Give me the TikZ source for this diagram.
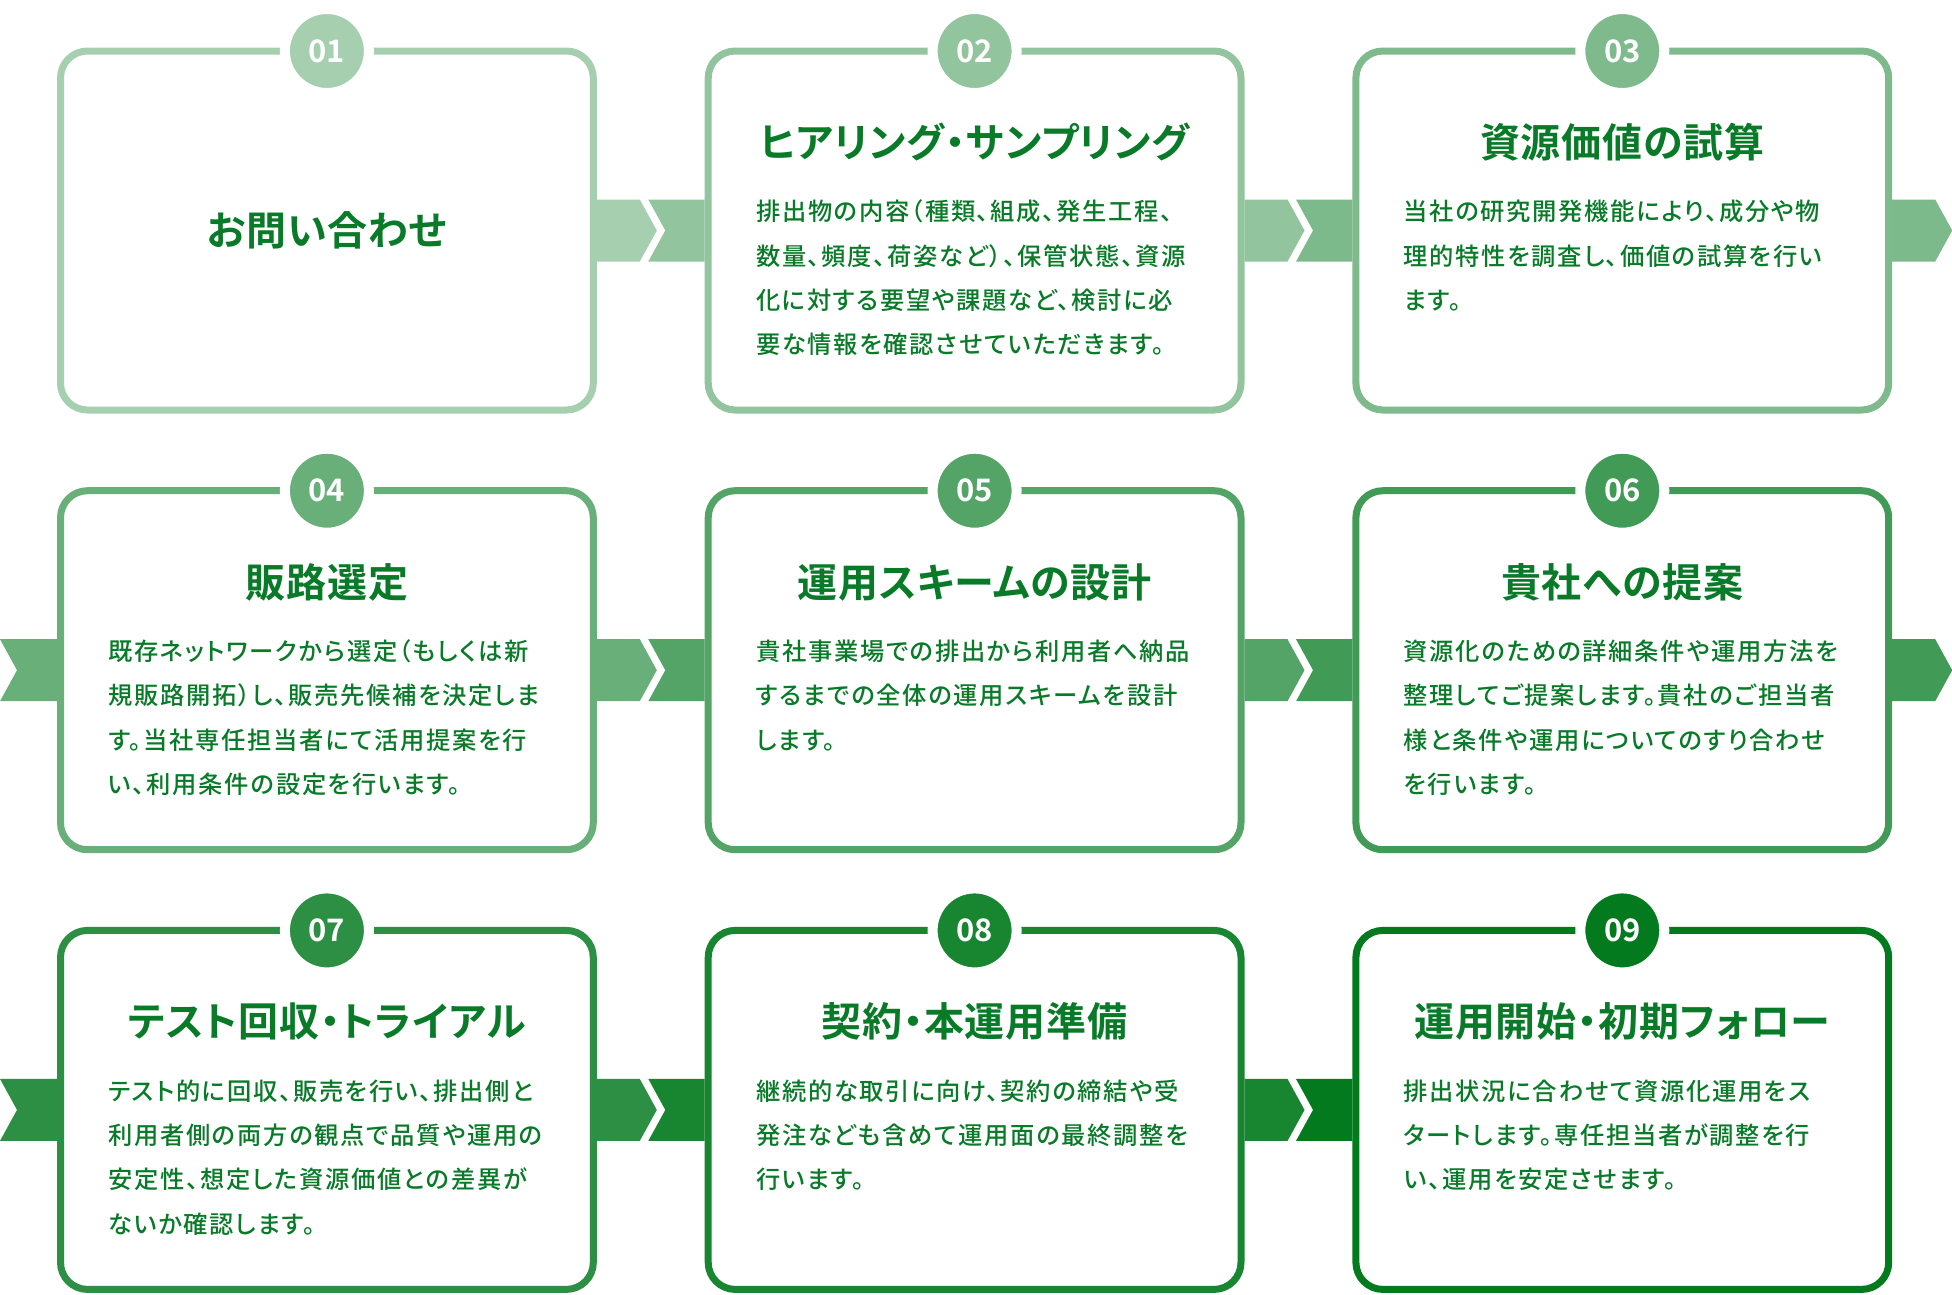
\documentclass[tikz,border=0pt]{standalone}
\usepackage{fontspec}
\usetikzlibrary{calc}
\newfontfamily\jptitle[RawFeature=+palt,LetterSpace=2]{Noto Sans CJK JP Bold}
\newfontfamily\jpnum{Noto Sans CJK JP Bold}
\IfFontExistsTF{Noto Sans CJK JP Medium}
  {\newfontfamily\jpbody[RawFeature=+palt,LetterSpace=7]{Noto Sans CJK JP Medium}}
  {\newfontfamily\jpbody[RawFeature=+palt,LetterSpace=7]{Noto Sans CJK JP}}
\definecolor{lightg}{RGB}{166,207,176}
\definecolor{darkg}{RGB}{4,122,30}
\definecolor{textg}{RGB}{8,122,40}
\colorlet{c1}{lightg}
\colorlet{c2}{darkg!12.5!lightg}
\colorlet{c3}{darkg!25!lightg}
\colorlet{c4}{darkg!37.5!lightg}
\colorlet{c5}{darkg!50!lightg}
\colorlet{c6}{darkg!62.5!lightg}
\colorlet{c7}{darkg!75!lightg}
\colorlet{c8}{darkg!87.5!lightg}
\colorlet{c9}{darkg}
\newcommand\chevpair[4]{%
  \fill[#3] ($(#1.east)+(0,-31)$) -- ++(43,0) -- ++(17,31) -- ++(-17,31) -- ++(-43,0) -- cycle;
  \fill[#4] ($(#1.east)+(51.5,-31)$) -- ($(#2.west)+(0,-31)$) -- ($(#2.west)+(0,31)$) -- ($(#1.east)+(51.5,31)$) -- ++(17,-31) -- cycle;}
\newcommand\chevright[2]{%
  \fill[#2] ($(#1.east)+(0,-31)$) -- ++(43,0) -- ++(17,31) -- ++(-17,31) -- ++(-43,0) -- cycle;}
\newcommand\chevleft[3]{%
  \fill[#3] ($(#1)+(0,-31)$) -- ($(#2.west)+(0,-31)$) -- ($(#2.west)+(0,31)$) -- ($(#1)+(0,31)$) -- ++(17,-31) -- cycle;}
\begin{document}
\begin{tikzpicture}[x=1pt,y=-1pt,
  stepbox/.style={draw=#1, line width=7pt, fill=white, rounded corners=27pt,
    minimum width=532.8pt, minimum height=359pt, inner sep=0pt},
  numdisk/.style={circle, fill=#1, draw=white, line width=10pt, minimum size=84pt,
    inner sep=0pt, text=white, font=\jpnum\fontsize{31}{31}\selectfont},
  titlet/.style={font=\jptitle\fontsize{40}{40}\selectfont, text=textg, inner sep=0pt, anchor=base},
  bodyt/.style={font=\jpbody\fontsize{24.3}{44.3}\selectfont, text=textg, align=left,
    inner sep=0pt, anchor=north west}]
\useasboundingbox (0,0) rectangle (1952,1294);
\fill[white] (0,0) rectangle (1952,1294);

% boxes
\node[stepbox=c1] (b1) at (326.9,230.5) {};
\node[stepbox=c2] (b2) at (974.6,230.5) {};
\node[stepbox=c3] (b3) at (1622.3,230.5) {};
\node[stepbox=c4] (b4) at (326.9,670.2) {};
\node[stepbox=c5] (b5) at (974.6,670.2) {};
\node[stepbox=c6] (b6) at (1622.3,670.2) {};
\node[stepbox=c7] (b7) at (326.9,1109.9) {};
\node[stepbox=c8] (b8) at (974.6,1109.9) {};
\node[stepbox=c9] (b9) at (1622.3,1109.9) {};

% connectors
\chevpair{b1}{b2}{c1}{c2}
\chevpair{b2}{b3}{c2}{c3}
\chevright{b3}{c3}
\coordinate (l4) at (0,670.2);
\chevleft{l4}{b4}{c4}
\chevpair{b4}{b5}{c4}{c5}
\chevpair{b5}{b6}{c5}{c6}
\chevright{b6}{c6}
\coordinate (l7) at (0,1109.9);
\chevleft{l7}{b7}{c7}
\chevpair{b7}{b8}{c7}{c8}
\chevpair{b8}{b9}{c8}{c9}

% number disks
\node[numdisk=c1] (n1) at ($(b1.north)+(0,3.5)$) {01};
\node[numdisk=c2] (n2) at ($(b2.north)+(0,3.5)$) {02};
\node[numdisk=c3] (n3) at ($(b3.north)+(0,3.5)$) {03};
\node[numdisk=c4] (n4) at ($(b4.north)+(0,3.5)$) {04};
\node[numdisk=c5] (n5) at ($(b5.north)+(0,3.5)$) {05};
\node[numdisk=c6] (n6) at ($(b6.north)+(0,3.5)$) {06};
\node[numdisk=c7] (n7) at ($(b7.north)+(0,3.5)$) {07};
\node[numdisk=c8] (n8) at ($(b8.north)+(0,3.5)$) {08};
\node[numdisk=c9] (n9) at ($(b9.north)+(0,3.5)$) {09};

% titles
\node[titlet] (t1) at ($(b1.center)+(0,15)$) {お問い合わせ};
\node[titlet] (t2) at ($(b2.center)+(0,-73)$) {ヒアリング・サンプリング};
\node[titlet] (t3) at ($(b3.center)+(0,-73)$) {資源価値の試算};
\node[titlet] (t4) at ($(b4.center)+(0,-73)$) {販路選定};
\node[titlet] (t5) at ($(b5.center)+(0,-73)$) {運用スキームの設計};
\node[titlet] (t6) at ($(b6.center)+(0,-73)$) {貴社への提案};
\node[titlet] (t7) at ($(b7.center)+(0,-73)$) {テスト回収・トライアル};
\node[titlet] (t8) at ($(b8.center)+(0,-73)$) {契約・本運用準備};
\node[titlet] (t9) at ($(b9.center)+(0,-73)$) {運用開始・初期フォロー};

% bodies
\node[bodyt] (d2) at ($(b2.center)+(-218.7,-40)$) {\rule{0pt}{30pt}排出物の内容（種類、組成、発生工程、\\数量、頻度、荷姿など）、保管状態、資源\\化に対する要望や課題など、検討に必\\要な情報を確認させていただきます。};
\node[bodyt] (d3) at ($(b3.center)+(-218.7,-40)$) {\rule{0pt}{30pt}当社の研究開発機能により、成分や物\\理的特性を調査し、価値の試算を行い\\ます。};
\node[bodyt] (d4) at ($(b4.center)+(-218.7,-40)$) {\rule{0pt}{30pt}既存ネットワークから選定（もしくは新\\規販路開拓）し、販売先候補を決定しま\\す。当社専任担当者にて活用提案を行\\い、利用条件の設定を行います。};
\node[bodyt] (d5) at ($(b5.center)+(-218.7,-40)$) {\rule{0pt}{30pt}貴社事業場での排出から利用者へ納品\\するまでの全体の運用スキームを設計\\します。};
\node[bodyt] (d6) at ($(b6.center)+(-218.7,-40)$) {\rule{0pt}{30pt}資源化のための詳細条件や運用方法を\\整理してご提案します。貴社のご担当者\\様と条件や運用についてのすり合わせ\\を行います。};
\node[bodyt] (d7) at ($(b7.center)+(-218.7,-40)$) {\rule{0pt}{30pt}テスト的に回収、販売を行い、排出側と\\利用者側の両方の観点で品質や運用の\\安定性、想定した資源価値との差異が\\ないか確認します。};
\node[bodyt] (d8) at ($(b8.center)+(-218.7,-40)$) {\rule{0pt}{30pt}継続的な取引に向け、契約の締結や受\\発注なども含めて運用面の最終調整を\\行います。};
\node[bodyt] (d9) at ($(b9.center)+(-218.7,-40)$) {\rule{0pt}{30pt}排出状況に合わせて資源化運用をス\\タートします。専任担当者が調整を行\\い、運用を安定させます。};
\end{tikzpicture}
\end{document}
